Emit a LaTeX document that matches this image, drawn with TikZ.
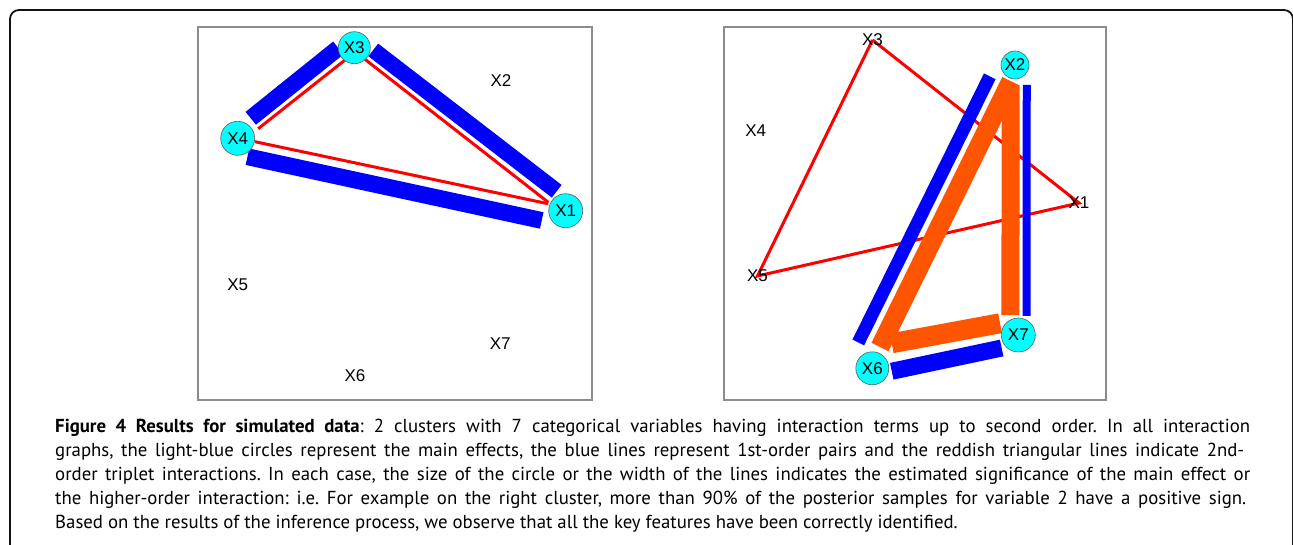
\documentclass[tikz,border=0pt]{standalone}
\usepackage{fontspec}
\setmainfont{PT Sans}
\newfontfamily\plotfont{Liberation Sans}
\usepackage{tikz}
\usetikzlibrary{calc}
\definecolor{gfframe}{RGB}{20,20,20}
\definecolor{gfbox}{RGB}{140,140,140}
\definecolor{gfmain}{RGB}{0,255,255}
\definecolor{gfrim}{RGB}{95,95,95}
\definecolor{gfpair}{RGB}{0,0,255}
\definecolor{gftrip}{RGB}{255,0,0}
\definecolor{gfhot}{RGB}{255,85,0}
\tikzset{
  main/.style={
    circle, draw=gfrim, line width=0.6pt, fill=gfmain,
    inner sep=0pt, minimum size=34pt,
    font=\plotfont\fontsize{17}{17}\selectfont
  },
  lbl/.style={inner sep=0pt, font=\plotfont\fontsize{17}{17}\selectfont},
  pair/.style={draw=gfpair, line width=16.5pt},
  trip/.style={draw=gftrip, line width=3pt},
  hot/.style={draw=gfhot, line width=19pt},
  panel/.style={draw=gfbox, line width=1.2pt},
  frame/.style={draw=gfframe, line width=1.8pt, rounded corners=9pt},
  capline/.style={anchor=base west, inner sep=0pt, font=\fontsize{18.8}{24}\selectfont\frenchspacing}
}
% bar beside the link A--B: [style]{A}{B}{trim at A}{trim at B}{offset at A}{offset at B}
\newcommand\linkbar[7][]{%
  \path ($(#2.center)!#4!(#3.center)$) coordinate (lka)
        ($(#3.center)!#5!(#2.center)$) coordinate (lkb);
  \draw[#1] ($(lka)!#6!90:(lkb)$) -- ($(lkb)!#7!-90:(lka)$);%
}

\begin{document}
\begin{tikzpicture}[x=1pt, y=-1pt]
  \useasboundingbox (0,0) rectangle (1293,545);
  \draw[frame] (10,560) -- (10,10) -- (1293,10) -- (1293,560);

  % left cluster
  \draw[panel] (198,27) rectangle (592,400);
  \node[lbl] (L2) at (501,80.7) {X2};
  \node[lbl] (L5) at (237.7,285) {X5};
  \node[lbl] (L6) at (355,376) {X6};
  \node[lbl] (L7) at (500.3,343.3) {X7};
  \coordinate (L1) at (565.7,210.7);
  \coordinate (L3) at (354.3,47.7);
  \coordinate (L4) at (237.7,138.3);
  \linkbar[trip]{L3}{L4}{12.5pt}{22pt}{4pt}{5pt}
  \linkbar[trip]{L3}{L1}{15.6pt}{18.9pt}{-2.7pt}{-4pt}
  \linkbar[trip]{L4}{L1}{17.6pt}{18.6pt}{0.4pt}{3pt}
  \linkbar[pair]{L3}{L4}{12.8pt}{22.6pt}{-9.6pt}{-7.8pt}
  \linkbar[pair, line width=16pt]{L3}{L1}{16.4pt}{19pt}{9.8pt}{9.9pt}
  \linkbar[pair, line width=16.8pt]{L4}{L1}{13.5pt}{21.3pt}{-15.9pt}{-14.7pt}
  \node[main] (n1) at (L1) {X1};
  \node[main, minimum size=32pt] (n3) at (L3) {X3};
  \node[main] (n4) at (L4) {X4};

  % right cluster
  \draw[panel] (724,27) rectangle (1106,400);
  \node[lbl] (R4) at (755.7,131) {X4};
  \coordinate (R1) at (1079,203);
  \coordinate (R3) at (872.5,40);
  \coordinate (R5) at (757.5,276);
  \coordinate (R2) at (1015,65);
  \coordinate (R6) at (872.3,368.3);
  \coordinate (R7) at (1018.3,335);
  \draw[trip] (R3) -- (R1) -- (R5) -- (R3);
  \node[lbl] (m1) at (R1) {X1};
  \node[lbl] (m3) at (R3) {X3};
  \node[lbl] (m5) at (R5) {X5};
  \linkbar[pair, line width=13pt]{R2}{R6}{21pt}{17.4pt}{-18pt}{-23.7pt}
  \linkbar[pair, line width=8pt]{R2}{R7}{20pt}{19pt}{11.5pt}{8.6pt}
  \linkbar[pair, line width=17pt]{R6}{R7}{18.3pt}{19.1pt}{-7.2pt}{-9pt}
  \linkbar[hot, line width=18pt]{R2}{R7}{20pt}{20pt}{-4.7pt}{-7.6pt}
  \linkbar[hot]{R2}{R6}{16.4pt}{22.5pt}{3.1pt}{-2.1pt}
  \linkbar[hot, line width=20pt]{R6}{R7}{24.5pt}{15.2pt}{20.1pt}{15.5pt}
  \node[main, minimum size=28pt] (m2) at (R2) {X2};
  \node[main, minimum size=33pt] (m6) at (R6) {X6};
  \node[main] (m7) at (R7) {X7};

  % caption
  \node[capline] (cap1) at (55,432)
    {\makebox[1195pt][s]{\textbf{Figure 4 Results for simulated data}: 2 clusters with 7 categorical variables having interaction terms up to second order. In all interaction}};
  \node[capline] (cap2) at (55,456.2)
    {\makebox[1189pt][s]{graphs, the light-blue circles represent the main effects, the blue lines represent 1st-order pairs and the reddish triangular lines indicate 2nd-}};
  \node[capline] (cap3) at (55,480.4)
    {\makebox[1195pt][s]{order triplet interactions. In each case, the size of the circle or the width of the lines indicates the estimated significance of the main effect or}};
  \node[capline] (cap4) at (55,504.6)
    {\makebox[1191pt][s]{the higher-order interaction: i.e. For example on the right cluster, more than 90\% of the posterior samples for variable 2 have a positive sign.}};
  \node[capline] (cap5) at (55,528.8)
    {Based on the results of the inference process, we observe that all the key features have been correctly identified.};
\end{tikzpicture}
\end{document}
